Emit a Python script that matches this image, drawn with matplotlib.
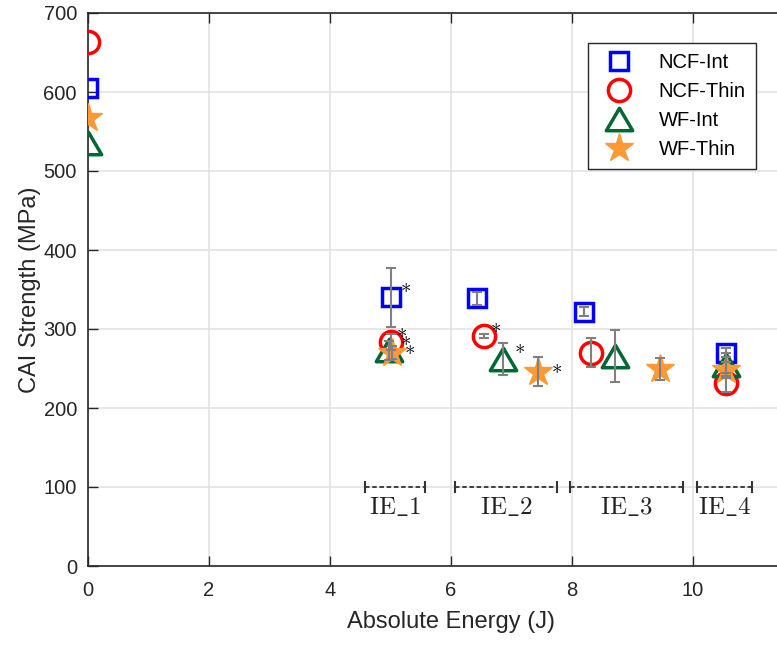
import matplotlib.pyplot as plt
from matplotlib.path import Path
import numpy as np

plt.rcParams["font.family"] = ["Liberation Sans", "DejaVu Sans"]
plt.rcParams["mathtext.fontset"] = "cm"

# absolute energy (J), CAI strength (MPa), error (MPa)
ncf_int_x = [0.0, 5.0, 6.43, 8.20, 10.55]
ncf_int_y = [605, 340, 339, 322, 270]
ncf_int_err = [0, 37, 8, 6, 6]

ncf_thin_x = [0.0, 5.0, 6.55, 8.31, 10.55]
ncf_thin_y = [663, 284, 291, 270, 232]
ncf_thin_err = [0, 10, 3, 18, 12]

wf_int_x = [0.0, 4.97, 6.86, 8.71, 10.55]
wf_int_y = [535, 273, 262, 266, 255]
wf_int_err = [0, 12, 20, 33, 15]

wf_thin_x = [0.0, 5.02, 7.44, 9.45, 10.55]
wf_thin_y = [567, 270, 246, 249, 248]
wf_thin_err = [0, 8, 18, 14, 10]

# impact energy groups: label, start, end (J)
ie_labels = ["IE\\_1", "IE\\_2", "IE\\_3", "IE\\_4"]
ie_start = [4.58, 6.07, 7.97, 10.07]
ie_end = [5.57, 7.75, 9.83, 10.98]
ie_level = 100

# wider triangle, like the matlab one
tri = Path([(0, 0.85), (-1, -0.85), (1, -0.85), (0, 0.85)],
           [Path.MOVETO, Path.LINETO, Path.LINETO, Path.CLOSEPOLY])

series = [
    ("NCF-Int", ncf_int_x, ncf_int_y, ncf_int_err, "s", "#0000FF", 13, [1]),
    ("NCF-Thin", ncf_thin_x, ncf_thin_y, ncf_thin_err, "o", "#FF0000", 16, [1, 2]),
    ("WF-Int", wf_int_x, wf_int_y, wf_int_err, tri, "#006633", 19, [1, 2]),
    ("WF-Thin", wf_thin_x, wf_thin_y, wf_thin_err, "*", "#FF9933", 21, [1, 2]),
]
star_offsets = {"NCF-Int": (11, 8), "NCF-Thin": (8, 7), "WF-Int": (12, 8), "WF-Thin": (13, 3)}

fig = plt.figure(figsize=(7.77, 6.45), dpi=100)
ax = fig.add_axes([88 / 777, 79 / 645, 726 / 777, 553 / 645])

for name, xs, ys, errs, mk, col, ms, starred in series:
    xs = np.array(xs)
    ys = np.array(ys)
    errs = np.array(errs)
    if isinstance(mk, str) and mk == "*":
        ax.plot(xs, ys, ls="none", marker=mk, ms=ms, mfc=col, mec=col, mew=1,
                label=name, zorder=3)
    else:
        ax.plot(xs, ys, ls="none", marker=mk, ms=ms, mfc="none", mec=col, mew=2.5,
                label=name, zorder=3)
    m = errs > 0
    ax.errorbar(xs[m], ys[m], yerr=errs[m], fmt="none", ecolor="#808080",
                elinewidth=1.5, capsize=3.5, capthick=1.5, zorder=4)
    dx, dy = star_offsets[name]
    for i in starred:
        ax.annotate(r"$\ast$", (xs[i], ys[i]), xytext=(dx, dy),
                    textcoords="offset points", ha="center", va="center",
                    fontsize=15, color="black", zorder=5)

for lab, a, b in zip(ie_labels, ie_start, ie_end):
    ax.plot([a, b], [ie_level, ie_level], ls=(0, (2.5, 1.5)), color="#333333", lw=1.3,
            zorder=2)
    ax.plot([a, b], [ie_level, ie_level], ls="none", marker="|", ms=9, mew=1.5,
            color="#333333", zorder=2)
    ax.text((a + b) / 2, ie_level - 25, r"$\mathrm{" + lab + "}$", ha="center",
            va="center", fontsize=18, color="#222222")

ax.set_xlim(0, 12)
ax.set_ylim(0, 700)
ax.set_xticks(np.arange(0, 11, 2))
ax.set_yticks(np.arange(0, 701, 100))
ax.grid(True, color="#E3E3E3", lw=1.2)
ax.set_axisbelow(True)
ax.tick_params(direction="in", length=7, width=1, labelsize=14.5, colors="#262626",
               top=True, right=True)
ax.tick_params(axis="x", pad=11)
ax.tick_params(axis="y", pad=8)
for s in ax.spines.values():
    s.set_color("#262626")
    s.set_linewidth(1.2)

ax.set_xlabel("Absolute Energy (J)", fontsize=17, color="#262626", labelpad=8)
ax.set_ylabel("CAI Strength (MPa)", fontsize=17, color="#262626", labelpad=2)

leg = ax.legend(loc="upper right", bbox_to_anchor=(766 / 777, 1 - 33 / 645),
                bbox_transform=fig.transFigure, fontsize=14.5, frameon=True,
                fancybox=False, edgecolor="#262626", framealpha=1,
                handletextpad=1.0, labelspacing=0.5, borderpad=0.5)
leg.get_frame().set_linewidth(1.0)

fig.savefig("out.png", dpi=100)
